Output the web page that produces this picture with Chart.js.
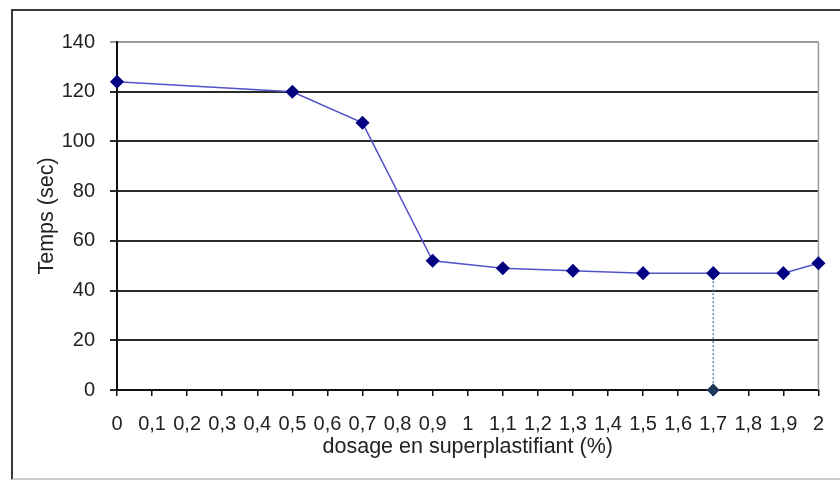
<!DOCTYPE html>
<html>
<head>
<meta charset="utf-8">
<script src="https://cdn.jsdelivr.net/npm/chart.js@4"></script>
<style>
    html, body { margin: 0; padding: 0; background: #fff; }
    #wrap { position: relative; width: 840px; height: 481px; overflow: hidden; }
    #frame { position: absolute; left: 11px; top: 9px; width: 840px; height: 467px; border: 2px solid #3a3a3a; border-bottom-color: #ccc; }
    canvas { position: absolute; left: 0; top: 0; }
</style>
</head>
<body>
<div id="wrap">
    <div id="frame"></div>
    <canvas id="chart" width="840" height="481"></canvas>
</div>
<script>
const dosage = [0, 0.5, 0.7, 0.9, 1.1, 1.3, 1.5, 1.7, 1.9, 2];
const temps = [124, 120, 107.5, 52, 49, 48, 47, 47, 47, 51];
const markX = [1.7, 1.7];
const markY = [47, 0];

document.addEventListener("DOMContentLoaded", function () {
    const ctx = document.getElementById("chart").getContext("2d");

    // bord droit de la zone de tracé
    const rightEdge = {
        id: "rightEdge",
        beforeDatasetsDraw(chart) {
            const a = chart.chartArea;
            const c = chart.ctx;
            c.save();
            c.strokeStyle = "#999";
            c.lineWidth = 1.5;
            c.beginPath();
            c.moveTo(a.right, a.top);
            c.lineTo(a.right, a.bottom);
            c.stroke();
            c.restore();
        }
    };

    function fmt(v) {
        return String(Math.round(v * 10) / 10).replace(".", ",");
    }

    const tickFont = { family: "Liberation Sans", size: 20 };
    const titleFont = { family: "Liberation Sans", size: 21.5 };

    new Chart(ctx, {
        type: "line",
        data: {
            datasets: [
                {
                    data: dosage.map((x, i) => ({ x: x, y: temps[i] })),
                    borderColor: "#5252c8",
                    borderWidth: 1.5,
                    pointStyle: "rectRot",
                    pointRadius: 6,
                    pointBackgroundColor: "#000080",
                    pointBorderColor: "#000080",
                    fill: false,
                    tension: 0,
                    clip: false
                },
                {
                    data: markX.map((x, i) => ({ x: x, y: markY[i] })),
                    borderColor: "#6a86a6",
                    borderWidth: 1.5,
                    borderDash: [2, 2],
                    pointStyle: "rectRot",
                    pointRadius: 5.5,
                    pointBackgroundColor: "#1c3a5c",
                    pointBorderColor: "#1c3a5c",
                    fill: false,
                    clip: false
                }
            ]
        },
        options: {
            responsive: false,
            animation: false,
            layout: { padding: { left: 30, top: 42, right: 20, bottom: 21 } },
            plugins: { legend: { display: false }, tooltip: { enabled: false } },
            scales: {
                x: {
                    type: "linear",
                    min: 0,
                    max: 2,
                    afterFit: s => { s.height = 70; },
                    border: { color: "#111", width: 2 },
                    grid: { drawOnChartArea: false, tickLength: 6, color: "#111", lineWidth: 1.5 },
                    ticks: {
                        stepSize: 0.1,
                        autoSkip: false,
                        maxRotation: 0,
                        padding: 16,
                        color: "#222",
                        font: tickFont,
                        callback: v => fmt(v)
                    },
                    title: {
                        display: true,
                        text: "dosage en superplastifiant (%)",
                        color: "#222",
                        padding: { top: 2, bottom: 0 },
                        font: titleFont
                    }
                },
                y: {
                    min: 0,
                    max: 140,
                    afterFit: s => { s.width = 87; },
                    border: { color: "#111", width: 2 },
                    grid: {
                        tickLength: 7,
                        lineWidth: 2,
                        color: c => c.tick && c.tick.value === 140 ? "#999" : "#2a2a2a"
                    },
                    ticks: {
                        stepSize: 20,
                        padding: 15,
                        color: "#222",
                        font: tickFont
                    },
                    title: {
                        display: true,
                        text: "Temps (sec)",
                        color: "#222",
                        padding: { top: 4, bottom: 4 },
                        font: titleFont
                    }
                }
            }
        },
        plugins: [rightEdge]
    });
});
</script>
</body>
</html>
